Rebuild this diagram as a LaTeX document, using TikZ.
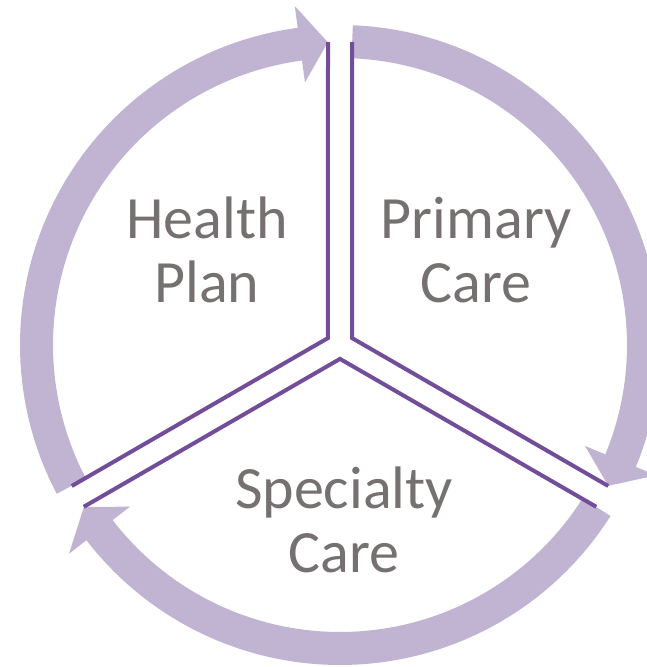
\documentclass[tikz,border=0pt]{standalone}
\usepackage{fontspec}
\setmainfont{Carlito}
\usetikzlibrary{calc}
\definecolor{ringlav}{RGB}{192,180,210}
\definecolor{splitpurple}{RGB}{114,78,154}
\definecolor{labelgray}{RGB}{118,113,113}
\tikzset{
  split/.style={draw=splitpurple,line width=4pt,line join=miter},
  lbl/.style={text=labelgray,align=center,inner sep=0pt,anchor=base,
    font=\fontsize{60}{64}\selectfont}
}
% arrow of the cycle: tail angle, head base angle, tip angle
\newcommand{\cycarrow}[3]{%
  \fill[ringlav]($(C)+(#1:320)$) arc[start angle=#1,end angle=#2,radius=320]
    --($(C)+(#2:342)$)--($(C)+(#3:303)$)--($(C)+(#2:265)$)--($(C)+(#2:287)$)
    arc[start angle=#2,end angle=#1,radius=287]--cycle;}

\begin{document}
\begin{tikzpicture}[x=1pt,y=1pt]
    \useasboundingbox (0,0) rectangle (646,667);
    \coordinate(C) at (340,322);

    % arrows round the ring
    \cycarrow{87.7}{-22.4}{-27.7}
    \cycarrow{-32.3}{-142.4}{-147.7}
    \cycarrow{207.7}{97.6}{92.3}

    % split lines
    \draw[split]($(C)+(90:302.8)+(180:12)$)--($(C)+(150:13.9)$)--($(C)+(210:302.8)+(120:12)$);
    \draw[split]($(C)+(90:302.8)+(0:12)$)--($(C)+(30:13.9)$)--($(C)+(-30:302.8)+(60:12)$);
    \draw[split]($(C)+(210:302.8)+(300:12)$)--($(C)+(270:13.9)$)--($(C)+(330:302.8)+(240:12)$);

    % labels (base = last line)
    \node[lbl](health) at (207,364) {Health\\Plan};
    \node[lbl](primary) at (476,364) {Primary\\Care};
    \node[lbl](specialty) at (344,94) {Specialty\\Care};
\end{tikzpicture}
\end{document}
